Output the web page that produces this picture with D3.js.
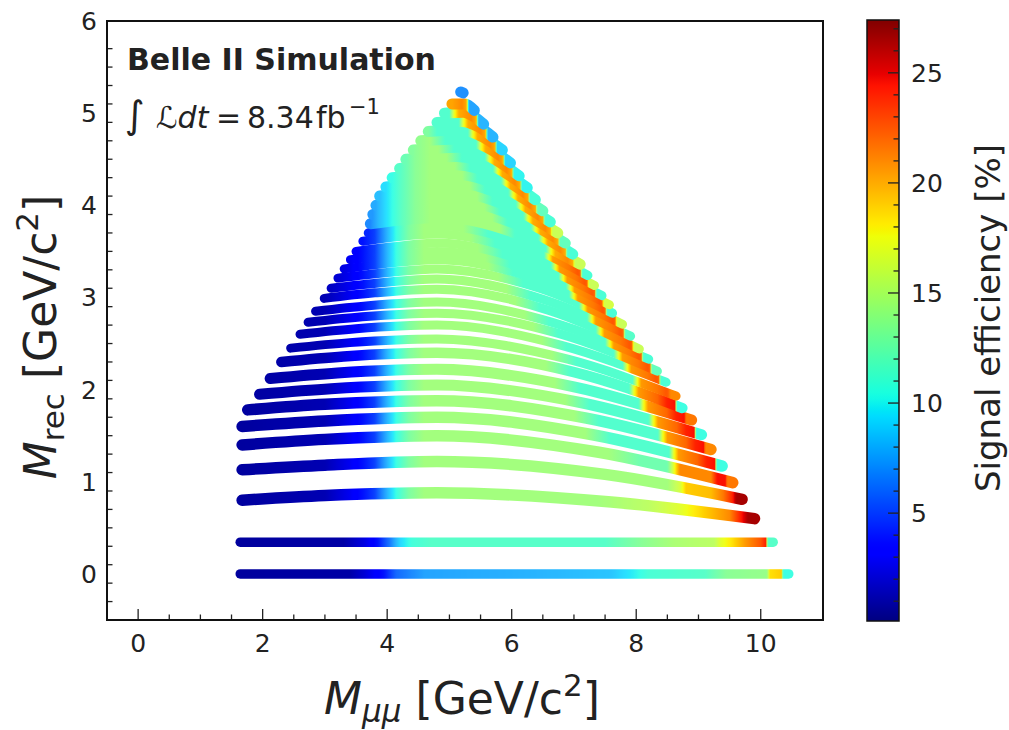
<!DOCTYPE html>
<html>
<head>
<meta charset="utf-8">
<script src="https://cdn.jsdelivr.net/npm/d3@7"></script>
<style>
  body { margin: 0; background: #fff; }
  text { font-family: "DejaVu Sans", sans-serif; fill: #222; }
</style>
</head>
<body>
<svg id="chart" width="1009" height="730"></svg>
<script>
// axis ticks
const xTicks = [0, 2, 4, 6, 8, 10];
const yTicks = [0, 1, 2, 3, 4, 5, 6];
const cbarTicks = [5, 10, 15, 20, 25];
const effMin = 0.1, effMax = 27.4;

// one mass scan per row: M_rec level at the low-mass end
const bandLevel = [0, 0.345, 0.80, 1.13, 1.40, 1.60, 1.78, 1.95, 2.12, 2.30, 2.45, 2.60, 2.73, 2.85, 2.99,
  3.10, 3.21, 3.31, 3.41, 3.50, 3.61, 3.70, 3.80, 3.90, 4.00, 4.10, 4.20, 4.30, 4.40, 4.50, 4.60,
  4.70, 4.80, 4.90, 5.00, 5.10, 5.20];

// [M_mumu, M_rec] read along each row
const bandKnots = [
  [[1.64, 0.00], [10.45, 0.00]],
  [[1.64, 0.345], [10.20, 0.345]],
  [[1.67, 0.80], [3.0, 0.85], [4.8, 0.88], [7.6, 0.78], [9.90, 0.60]],
  [[1.67, 1.13], [3.0, 1.18], [4.8, 1.22], [7.5, 1.08], [9.70, 0.81]],
  [[1.67, 1.40], [3.0, 1.46], [4.8, 1.50], [7.4, 1.32], [9.55, 0.99]],
  [[1.67, 1.60], [3.0, 1.66], [4.8, 1.70], [7.3, 1.51], [9.38, 1.17]],
  [[1.76, 1.78], [3.0, 1.84], [4.8, 1.88], [7.2, 1.69], [9.20, 1.35]],
  [[1.95, 1.95], [3.1, 2.01], [4.8, 2.05], [7.1, 1.86], [9.05, 1.51]],
  [[2.12, 2.12], [3.2, 2.18], [4.8, 2.22], [7.0, 2.03], [8.89, 1.67]],
  [[2.30, 2.30], [3.3, 2.36], [4.8, 2.40], [7.0, 2.19], [8.74, 1.80]],
  [[2.45, 2.45], [3.4, 2.51], [4.8, 2.55], [6.9, 2.33], [8.64, 1.93]],
  [[2.60, 2.60], [3.5, 2.66], [4.8, 2.70], [6.8, 2.48], [8.48, 2.08]],
  [[2.73, 2.73], [3.6, 2.79], [4.8, 2.83], [6.75, 2.61], [8.34, 2.20]],
  [[2.85, 2.85], [3.7, 2.91], [4.8, 2.95], [6.65, 2.73], [8.20, 2.33]],
  [[2.99, 2.99], [3.8, 3.05], [4.8, 3.09], [6.6, 2.86], [8.05, 2.44]],
  [[3.10, 3.10], [3.9, 3.16], [4.8, 3.20], [6.5, 2.98], [7.91, 2.58]],
  [[3.21, 3.21], [4.0, 3.27], [4.8, 3.31], [6.45, 3.10], [7.78, 2.71]],
  [[3.31, 3.31], [4.0, 3.37], [4.8, 3.41], [6.35, 3.21], [7.62, 2.83]],
  [[3.41, 3.41], [4.1, 3.46], [4.8, 3.50], [6.3, 3.30], [7.57, 2.92]],
  [[3.50, 3.50], [4.1, 3.55], [4.8, 3.59], [6.25, 3.39], [7.45, 3.02]],
  [[3.61, 3.61], [4.8, 3.69], [6.2, 3.49], [7.33, 3.13]],
  [[3.70, 3.70], [4.8, 3.78], [6.15, 3.59], [7.22, 3.24]],
  [[3.73, 3.80], [4.9, 3.87], [6.1, 3.69], [7.10, 3.36]],
  [[3.77, 3.90], [5.0, 3.96], [6.1, 3.79], [6.98, 3.47]],
  [[3.82, 4.00], [5.0, 4.06], [6.0, 3.90], [6.86, 3.59]],
  [[3.88, 4.10], [5.0, 4.15], [5.95, 3.99], [6.74, 3.70]],
  [[3.98, 4.20], [5.05, 4.25], [5.9, 4.10], [6.62, 3.82]],
  [[4.08, 4.30], [5.07, 4.34], [5.85, 4.20], [6.50, 3.94]],
  [[4.20, 4.40], [5.1, 4.44], [5.8, 4.31], [6.38, 4.06]],
  [[4.30, 4.50], [5.12, 4.53], [5.75, 4.41], [6.25, 4.19]],
  [[4.42, 4.60], [5.14, 4.63], [5.67, 4.52], [6.12, 4.32]],
  [[4.54, 4.70], [5.16, 4.72], [5.6, 4.63], [5.98, 4.46]],
  [[4.66, 4.80], [5.18, 4.82], [5.54, 4.74], [5.85, 4.60]],
  [[4.80, 4.90], [5.2, 4.91], [5.47, 4.85], [5.70, 4.74]],
  [[4.92, 5.00], [5.22, 5.01], [5.4, 4.96], [5.55, 4.88]],
  [[5.04, 5.10], [5.25, 5.10], [5.40, 5.03]],
  [[5.18, 5.23], [5.22, 5.22]]
];

// efficiency [%] vs M_mumu on the low-mass side
const leftProfiles = {
  bottom: [[1.64, 0.8], [3.4, 1.0], [3.65, 2.2], [3.95, 4.0], [4.15, 6.0], [4.6, 7.5], [6.5, 8.0], [7.6, 8.5],
    [7.95, 9.8], [8.2, 11.0], [9.1, 11.5], [9.45, 13.5], [10.1, 14.0]],
  second: [[1.64, 0.8], [3.3, 1.0], [3.65, 2.5], [3.85, 4.0], [4.05, 6.5], [4.2, 9.0], [4.4, 10.8], [4.7, 11.5],
    [7.5, 11.5], [8.1, 13.5], [8.6, 14.8], [9.25, 15.5]],
  main: [[1.6, 0.8], [3.0, 1.3], [3.4, 2.8], [3.8, 5.0], [4.0, 8.0], [4.15, 10.5], [4.35, 13.0], [4.6, 14.5]],
  upper: [[3.7, 6.5], [3.85, 8.0], [4.0, 9.5], [4.2, 11.5], [4.45, 13.5], [4.7, 14.5]]
};
// efficiency [%] vs distance from the high-mass end of a row
const rightProfiles = {
  r0: [[0.35, 14.0], [0.3, 18.5], [0.12, 19]],
  r035: [[0.95, 15.5], [0.85, 17], [0.65, 18.5], [0.45, 20.5], [0.2, 22.5], [0.12, 24]],
  r08: [[2.5, 14.5], [1.7, 15.5], [1.2, 17], [0.8, 19], [0.4, 21], [0.2, 24.5], [0.11, 26.5]],
  r113: [[2.2, 14.5], [1.2, 14.5], [1.0, 16.5], [0.9, 19], [0.5, 19.5], [0.3, 21.5], [0.15, 24], [0.11, 26]],
  r140: [[2.0, 14.5], [1.5, 12.5], [1.05, 12.5], [0.95, 17], [0.85, 21], [0.35, 21], [0.25, 24.5], [0.12, 24.5]],
  A: [[2.2, 14.5], [1.8, 11.3], [0.85, 11.3], [0.78, 17], [0.7, 20.5], [0.4, 22], [0.25, 24], [0.12, 24.5]],
  B: [[2.0, 14.5], [1.6, 11.3], [0.7, 11.3], [0.63, 17], [0.56, 20.5], [0.3, 21.5], [0.15, 22.5], [0.12, 22]],
  C: [[1.3, 14.5], [1.05, 11.3], [0.55, 11.3], [0.48, 17], [0.4, 20], [0.2, 21], [0.12, 20]]
};
const bandLeft = ["bottom", "second", "main", "main", "main", "main", "main", "main", "main", "main",
  "main", "main", "main", "main", "main", "main", "main", "main", "main", "main", "main", "main",
  "upper", "upper", "upper", "upper", "upper", "upper", "upper", "upper", "upper", "upper", "upper",
  "upper", "upper", "upper", "upper"];
const bandRight = ["r0", "r035", "r08", "r113", "r140", "A", "A", "A", "A", "A",
  "B", "B", "B", "B", "B", "B", "B", "B", "B", "B", "B", "B",
  "C", "C", "C", "C", "C", "C", "C", "C", "C", "C", "C", "C", "C", "C", "C"];
// last point of each row
const bandEndEff = [10.5, 11.5, 26.5, 26.5, 21.5, 10.5, 21, 10.5, 21.5, 10.5, 21, 11, 12, 11, 16, 11.5,
  16, 11, 16.5, 11, 16, 11, 16, 11, 12, 16, 11, 12, 11, 10, 10, 9, 9, 8, 8, 7.5, 7];
const bandWidth = [9.5, 9.5, 11.5, 11.5, 11.5, 11.5, 11.5, 11, 11, 10.5, 9, 9, 9, 9, 9, 9, 9, 9,
  9, 9, 9, 9.5, 11, 11, 11, 11, 11, 11, 11, 11, 11, 11, 11, 11, 11, 11, 11];

// matplotlib "jet"
const jetT = [0, 0.11, 0.125, 0.34, 0.35, 0.375, 0.64, 0.65, 0.66, 0.89, 0.91, 1];
const jetRGB = ["rgb(0,0,128)", "rgb(0,0,255)", "rgb(0,0,255)", "rgb(0,219,255)", "rgb(0,230,247)",
  "rgb(21,255,226)", "rgb(239,255,8)", "rgb(247,245,0)", "rgb(255,236,0)", "rgb(255,19,0)",
  "rgb(232,0,0)", "rgb(128,0,0)"];
const jet = d3.scaleLinear().domain(jetT).range(jetRGB).interpolate(d3.interpolateRgb);
const norm = d3.scaleLinear().domain([effMin, effMax]).range([0, 1]).clamp(true);
const color = e => jet(norm(e));
// the scatter markers are slightly see-through, which washes out the mid colours
const wash = d3.scaleLinear().domain([4, 8, 16, 19]).range([0, 0.16, 0.16, 0]).clamp(true);
const markColor = e => d3.interpolateRgb(color(e), "#fff")(wash(e));

const svg = d3.select("#chart");
const defs = svg.append("defs");
const plot = { left: 107, right: 823, top: 21, bottom: 620 };
const x = d3.scaleLinear().domain([-0.5, 11]).range([plot.left, plot.right]);
const y = d3.scaleLinear().domain([-0.5, 6]).range([plot.bottom, plot.top]);

defs.append("clipPath").attr("id", "clip").append("rect")
  .attr("x", plot.left).attr("y", plot.top)
  .attr("width", plot.right - plot.left).attr("height", plot.bottom - plot.top);

const line = d3.line().x(d => x(d[0])).y(d => y(d[1])).curve(d3.curveMonotoneX);
const bands = svg.append("g").attr("clip-path", "url(#clip)");

bandKnots.forEach((knots, i) => {
  const xs = knots[0][0], xe = knots[knots.length - 1][0];
  const lp = leftProfiles[bandLeft[i]];
  const rp = rightProfiles[bandRight[i]].concat([[0.09, bandEndEff[i]], [0, bandEndEff[i]]]);
  const left = d3.scaleLinear().domain(lp.map(d => d[0])).range(lp.map(d => d[1])).clamp(true);
  const right = d3.scaleLinear().domain(rp.map(d => d[0])).range(rp.map(d => d[1])).clamp(true);
  const effAt = v => (xe - v) >= rp[0][0] ? left(v) : right(xe - v);

  const grad = defs.append("linearGradient").attr("id", "band" + i)
    .attr("gradientUnits", "userSpaceOnUse")
    .attr("x1", x(xs)).attr("x2", x(xe)).attr("y1", 0).attr("y2", 0);
  const n = Math.max(2, Math.ceil((xe - xs) / 0.02));
  d3.range(n + 1).forEach(k => {
    grad.append("stop").attr("offset", k / n).attr("stop-color", markColor(effAt(xs + (xe - xs) * k / n)));
  });

  bands.append("path")
    .attr("d", line(knots))
    .attr("fill", "none")
    .attr("stroke", `url(#band${i})`)
    .attr("stroke-width", bandWidth[i])
    .attr("stroke-linecap", "round")
    .attr("stroke-linejoin", "round");
});

// ticks pointing inward
const axes = svg.append("g").attr("stroke", "#222");
d3.range(1, 22).map(k => -0.5 + k * 0.5).forEach(v => {
  const major = xTicks.includes(v);
  axes.append("line").attr("x1", x(v)).attr("x2", x(v))
    .attr("y1", plot.bottom).attr("y2", plot.bottom - (major ? 11 : 5.5)).attr("stroke-width", 1.3);
});
d3.range(1, 32).map(k => +(-0.5 + k * 0.2).toFixed(1)).forEach(v => {
  if (v >= 6) return;
  const major = yTicks.includes(v);
  axes.append("line").attr("y1", y(v)).attr("y2", y(v))
    .attr("x1", plot.left).attr("x2", plot.left + (major ? 11 : 5.5)).attr("stroke-width", 1.3);
});
svg.append("rect").attr("x", plot.left).attr("y", plot.top)
  .attr("width", plot.right - plot.left).attr("height", plot.bottom - plot.top)
  .attr("fill", "none").attr("stroke", "#111").attr("stroke-width", 2);

svg.append("g").selectAll("text").data(xTicks).join("text")
  .attr("x", d => x(d)).attr("y", 652).attr("text-anchor", "middle")
  .attr("font-size", 25).text(d => d);
svg.append("g").selectAll("text").data(yTicks).join("text")
  .attr("x", 97).attr("y", d => y(d) + 9).attr("text-anchor", "end")
  .attr("font-size", 25).text(d => d);

// axis titles
const xt = svg.append("text").attr("x", 462).attr("y", 714).attr("text-anchor", "middle").attr("font-size", 44);
xt.append("tspan").attr("font-style", "italic").text("M");
xt.append("tspan").attr("font-style", "italic").attr("font-size", 31).attr("dy", 8).text("μμ");
xt.append("tspan").attr("dy", -8).text(" [GeV/c");
xt.append("tspan").attr("font-size", 31).attr("dy", -18).text("2");
xt.append("tspan").attr("dy", 18).text("]");

const yt = svg.append("text").attr("transform", "translate(56,337) rotate(-90)")
  .attr("text-anchor", "middle").attr("font-size", 44);
yt.append("tspan").attr("font-style", "italic").text("M");
yt.append("tspan").attr("font-size", 31).attr("dy", 8).text("rec");
yt.append("tspan").attr("dy", -8).text(" [GeV/c");
yt.append("tspan").attr("font-size", 31).attr("dy", -18).text("2");
yt.append("tspan").attr("dy", 18).text("]");

// labels inside the frame
svg.append("text").attr("x", 127).attr("y", 70).attr("font-size", 30).attr("font-weight", "bold")
  .text("Belle II Simulation");
const lumi = svg.append("text").attr("y", 128).attr("font-size", 30);
lumi.append("tspan").attr("x", 125).attr("font-size", 38).text("∫");
lumi.append("tspan").attr("x", 156).attr("font-style", "italic").text("ℒdt");
lumi.append("tspan").attr("x", 216).text("=");
lumi.append("tspan").attr("x", 247).text("8.34");
lumi.append("tspan").attr("x", 316).text("fb");
lumi.append("tspan").attr("x", 349).attr("font-size", 21).attr("dy", -14).text("−1");

// colour bar
const cb = { x: 867, w: 32, top: 20, bottom: 621 };
const cy = d3.scaleLinear().domain([effMin, effMax]).range([cb.bottom, cb.top]);
const cg = defs.append("linearGradient").attr("id", "cbar").attr("x1", 0).attr("x2", 0).attr("y1", 1).attr("y2", 0);
d3.range(0, 101).forEach(k => {
  cg.append("stop").attr("offset", k / 100).attr("stop-color", color(effMin + (effMax - effMin) * k / 100));
});
svg.append("rect").attr("x", cb.x).attr("y", cb.top).attr("width", cb.w).attr("height", cb.bottom - cb.top)
  .attr("fill", "url(#cbar)").attr("stroke", "#111").attr("stroke-width", 1.5);
d3.range(1, 28).forEach(v => {
  const major = cbarTicks.includes(v);
  svg.append("line").attr("x1", cb.x + cb.w).attr("x2", cb.x + cb.w - (major ? 11 : 5.5))
    .attr("y1", cy(v)).attr("y2", cy(v)).attr("stroke", "#222").attr("stroke-width", 1.3);
});
svg.append("g").selectAll("text").data(cbarTicks).join("text")
  .attr("x", 911).attr("y", d => cy(d) + 9).attr("font-size", 25).text(d => d);
svg.append("text").attr("transform", "translate(1000,318) rotate(-90)")
  .attr("text-anchor", "middle").attr("font-size", 34).text("Signal efficiency [%]");
</script>
</body>
</html>
